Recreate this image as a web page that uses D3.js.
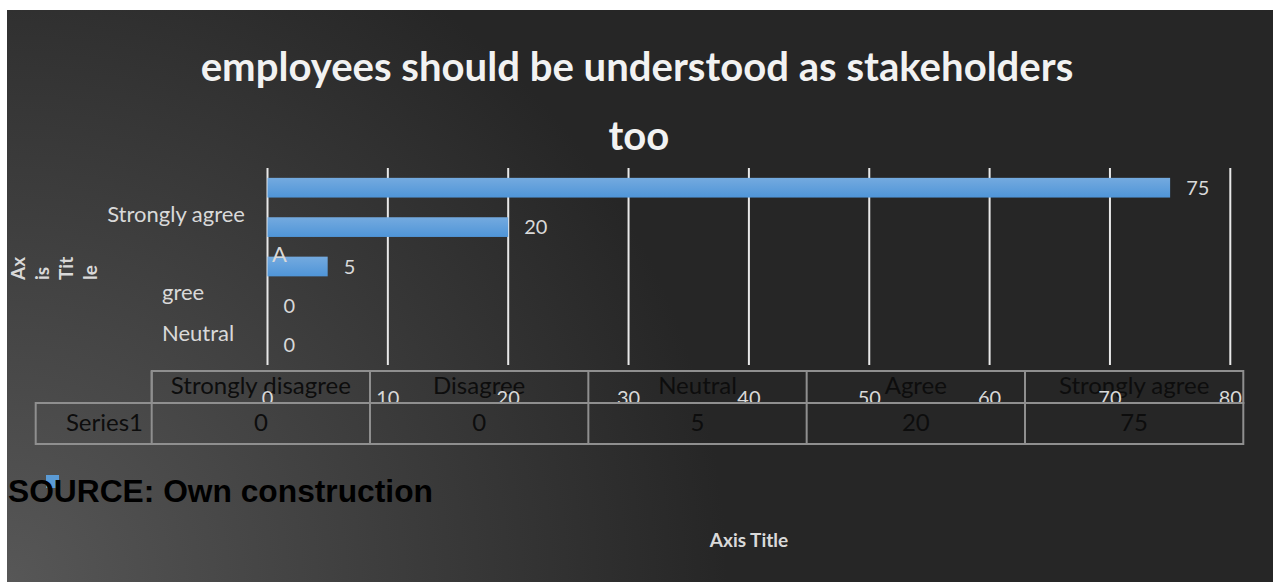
<!DOCTYPE html>
<meta charset="utf-8">
<title>employees should be understood as stakeholders too</title>
<style>
body {
  margin: 0;
  background: #fff;
}
text {
  font-family: Lato, "Open Sans", sans-serif;
}
</style>
<body>
<div id="chart"></div>
<script src="https://d3js.org/d3.v7.min.js"></script>
<script>
// data
const categories = ["Strongly disagree", "Disagree", "Neutral", "Agree", "Strongly agree"];
const values = [0, 0, 5, 20, 75];
const seriesName = "Series1";
const xTicks = [0, 10, 20, 30, 40, 50, 60, 70, 80];
const titleLines = ["employees should be understood as stakeholders", "too"];
const axisTitleLines = ["Ax", "is", "Tit", "le"];
const sourceNote = "SOURCE: Own construction";

const width = 1273;
const height = 582;

const svg = d3.select("#chart")
  .append("svg")
    .attr("width", width)
    .attr("height", height);

const defs = svg.append("defs");

// dark background, lighter towards the bottom left corner
const bg = defs.append("radialGradient")
    .attr("id", "bg")
    .attr("gradientUnits", "userSpaceOnUse")
    .attr("cx", 7).attr("cy", 582).attr("r", 720);
bg.append("stop").attr("offset", "0%").attr("stop-color", "#575757");
bg.append("stop").attr("offset", "100%").attr("stop-color", "#262626");

const barFill = defs.append("linearGradient")
    .attr("id", "barFill")
    .attr("x1", 0).attr("y1", 0).attr("x2", 0).attr("y2", 1);
barFill.append("stop").attr("offset", "0%").attr("stop-color", "#74aadf");
barFill.append("stop").attr("offset", "100%").attr("stop-color", "#4f95d8");

defs.append("clipPath").attr("id", "tickClip")
  .append("rect").attr("x", 0).attr("y", 0).attr("width", width).attr("height", 402);

svg.append("rect")
    .attr("x", 7).attr("y", 10)
    .attr("width", width - 7).attr("height", height - 10)
    .attr("fill", "url(#bg)");

// scale text so it covers a given width
function fitWidth(sel, target) {
  const size = parseFloat(sel.attr("font-size"));
  const w = sel.node().getComputedTextLength();
  sel.attr("font-size", size * target / w);
  return size * target / w;
}

// title
const t1 = svg.append("text")
    .attr("x", 637).attr("y", 81)
    .attr("text-anchor", "middle")
    .attr("font-weight", "bold")
    .attr("font-size", 34)
    .attr("fill", "#f2f2f2")
    .text(titleLines[0]);
const titleSize = fitWidth(t1, 873);
svg.append("text")
    .attr("x", 639).attr("y", 150)
    .attr("text-anchor", "middle")
    .attr("font-weight", "bold")
    .attr("font-size", titleSize)
    .attr("fill", "#f2f2f2")
    .text(titleLines[1]);

// scales
const x = d3.scaleLinear()
    .domain([0, 80])
    .range([267.5, 1230.3]);

const y = d3.scaleBand()
    .domain(categories.slice().reverse())
    .range([168, 365])
    .paddingInner(0.5)
    .paddingOuter(0.25);

// gridlines
svg.append("g")
  .selectAll("line")
  .data(xTicks)
  .join("line")
    .attr("x1", d => x(d)).attr("x2", d => x(d))
    .attr("y1", 168).attr("y2", 365)
    .attr("stroke", "#e8e8e8")
    .attr("stroke-width", 2);

// bars
const rows = categories.map((c, i) => ({ cat: c, value: values[i] }));

svg.append("g")
  .selectAll("rect")
  .data(rows)
  .join("rect")
    .attr("x", x(0))
    .attr("y", d => y(d.cat))
    .attr("width", d => x(d.value) - x(0))
    .attr("height", y.bandwidth())
    .attr("fill", "url(#barFill)");

// data labels
svg.append("g")
  .selectAll("text")
  .data(rows)
  .join("text")
    .attr("x", d => x(d.value) + 16)
    .attr("y", d => y(d.cat) + y.bandwidth() / 2)
    .attr("dy", "0.35em")
    .attr("font-size", 20)
    .attr("fill", "#d9d9d9")
    .text(d => d.value);

// category labels, wrapped and shifted the way the original renders them
const catLabels = [
  { text: "Strongly agree", x: 245, y: 222, anchor: "end" },
  { text: "A", x: 272, y: 262, anchor: "start" },
  { text: "gree", x: 162, y: 300, anchor: "start" },
  { text: "Neutral", x: 162, y: 341, anchor: "start" }
];
svg.append("g")
  .selectAll("text")
  .data(catLabels)
  .join("text")
    .attr("x", d => d.x)
    .attr("y", d => d.y)
    .attr("text-anchor", d => d.anchor)
    .attr("font-size", 22)
    .attr("fill", "#d9d9d9")
    .text(d => d.text);

// vertical axis title
svg.append("g")
  .selectAll("text")
  .data(axisTitleLines)
  .join("text")
    .attr("transform", (d, i) => `translate(${25 + i * 24},280) rotate(-90)`)
    .attr("font-size", 19)
    .attr("font-weight", "bold")
    .attr("fill", "#d9d9d9")
    .text(d => d);

// data table
const col = d3.scaleBand()
    .domain(categories)
    .range([151.7, 1243.3]);

const table = svg.append("g")
    .attr("fill", "none")
    .attr("stroke", "#8f8f8f")
    .attr("stroke-width", 2);
table.append("rect")
    .attr("x", col.range()[0]).attr("y", 371)
    .attr("width", col.range()[1] - col.range()[0]).attr("height", 32);
table.append("rect")
    .attr("x", 35.7).attr("y", 403)
    .attr("width", col.range()[1] - 35.7).attr("height", 41);
table.selectAll("line.sep")
  .data(categories)
  .join("line")
    .attr("class", "sep")
    .attr("x1", d => col(d)).attr("x2", d => col(d))
    .attr("y1", 371).attr("y2", 444);

svg.append("g")
  .selectAll("text")
  .data(categories)
  .join("text")
    .attr("x", d => col(d) + col.bandwidth() / 2)
    .attr("y", 394)
    .attr("text-anchor", "middle")
    .attr("font-size", 24)
    .attr("fill", "#0d0d0d")
    .text(d => d);

svg.append("g")
  .selectAll("text")
  .data(rows)
  .join("text")
    .attr("x", d => col(d.cat) + col.bandwidth() / 2)
    .attr("y", 431)
    .attr("text-anchor", "middle")
    .attr("font-size", 24)
    .attr("fill", "#0d0d0d")
    .text(d => d.value);

svg.append("text")
    .attr("x", 143).attr("y", 431)
    .attr("text-anchor", "end")
    .attr("font-size", 24)
    .attr("fill", "#0d0d0d")
    .text(seriesName);

// value axis tick labels, cut off by the table row line
svg.append("g")
    .attr("clip-path", "url(#tickClip)")
  .selectAll("text")
  .data(xTicks)
  .join("text")
    .attr("x", d => x(d))
    .attr("y", 405)
    .attr("text-anchor", "middle")
    .attr("font-size", 20)
    .attr("fill", "#d9d9d9")
    .text(d => d);

// horizontal axis title
svg.append("text")
    .attr("x", 749).attr("y", 547)
    .attr("text-anchor", "middle")
    .attr("font-size", 19)
    .attr("font-weight", "bold")
    .attr("fill", "#d9d9d9")
    .text("Axis Title");

// legend key sitting under the source note
svg.append("rect")
    .attr("x", 46).attr("y", 475)
    .attr("width", 13).attr("height", 13)
    .attr("fill", "#5b9bd5");

const src = svg.append("text")
    .attr("x", 8).attr("y", 502)
    .style("font-family", "'Liberation Sans', Arial, sans-serif")
    .attr("font-weight", "bold")
    .attr("font-size", 30)
    .attr("fill", "#000")
    .text(sourceNote);
fitWidth(src, 425);
</script>
</body>
